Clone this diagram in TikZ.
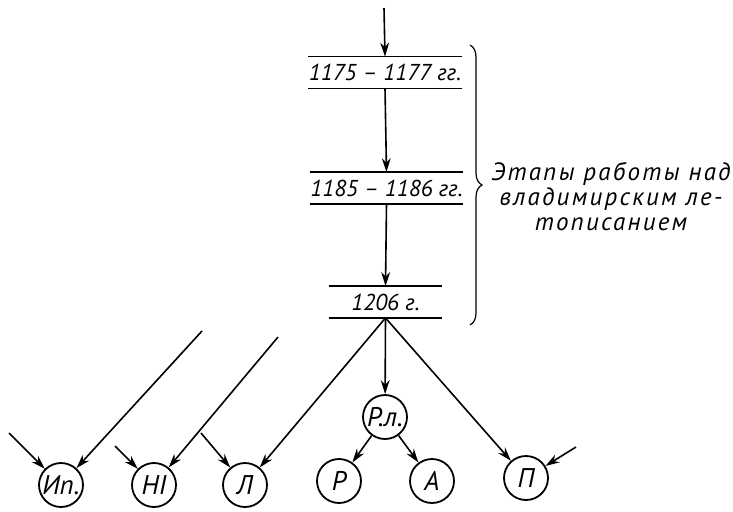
\documentclass[tikz,border=0pt]{standalone}
\usepackage{fontspec}
\setmainfont{PT Sans}
\usetikzlibrary{arrows.meta,decorations.pathreplacing,positioning}

\tikzset{
    % Define chronicle node styles
    stagebox/.style={
        rectangle, draw=none, inner sep=0pt,
        minimum height=15.5pt,
        font=\itshape\fontsize{11.5}{13}\selectfont
    },
    listbox/.style={
        circle, draw, line width=0.9pt,
        minimum size=22pt, inner sep=0pt,
        font=\itshape\fontsize{13.5}{15}\selectfont
    },
    arrow/.style={
        -{Stealth[length=7pt,width=4.4pt]}, line width=0.8pt
    },
    stagerule/.style={
        line width=0.8pt
    },
    annotation/.style={
        align=center,
        font=\itshape\fontsize{12.5}{12.5}\selectfont\addfontfeature{LetterSpace=9}
    }
}

\begin{document}
\begin{tikzpicture}[x=0.5pt,y=-0.5pt]
\useasboundingbox (0,0) rectangle (733,511);

% Stages of the Vladimir chronicle
\node[stagebox, minimum width=75pt] (s1175) at (385,72.5) {1175 -- 1177 гг.};
\node[stagebox, minimum width=76.5pt] (s1185) at (386.5,188) {1185 -- 1186 гг.};
\node[stagebox, minimum width=56.5pt] (s1206) at (385.5,302) {1206 г.};
\foreach \s in {s1175,s1185,s1206}
    \draw[stagerule] (\s.north west) -- (\s.north east) (\s.south west) -- (\s.south east);

% Brace and its label
\draw[decorate, decoration={brace, amplitude=6pt}, line width=0.6pt] (470,45) -- (470,325);
\node[annotation] (stages) at (611,197) {Этапы работы над\\владимирским ле-\\тописанием};

% Chronicles
\node[listbox] (ip) at (61,485) {Ип.};
\node[listbox] (n1) at (154,485) {НI};
\node[listbox] (l) at (245,485) {Л};
\node[listbox] (rl) at (385,417) {Р.л.};
\node[listbox] (r) at (339,481) {Р};
\node[listbox] (a) at (432,481) {А};
\node[listbox] (p) at (526,478) {П};

% Free ends of incoming lines
\coordinate (top) at (384,8);
\coordinate (ipA) at (202,331);
\coordinate (ipB) at (9,433);
\coordinate (n1A) at (278,337);
\coordinate (n1B) at (115,446);
\coordinate (lB) at (201,433);
\coordinate (pB) at (576,447);

% Connections
\draw[arrow] (top) -- (s1175.north);
\draw[arrow] (s1175.south) -- (s1185.north);
\draw[arrow] (s1185.south) -- (s1206.north);
\draw[arrow] (s1206.south) -- (rl);
\draw[arrow] (s1206.south) -- (l);
\draw[arrow] (s1206.south) -- (p);
\draw[arrow] (rl) -- (r);
\draw[arrow] (rl) -- (a);
\draw[arrow] (ipA) -- (ip);
\draw[arrow] (ipB) -- (ip);
\draw[arrow] (n1A) -- (n1);
\draw[arrow] (n1B) -- (n1);
\draw[arrow] (lB) -- (l);
\draw[arrow] (pB) -- (p);

\end{tikzpicture}
\end{document}
